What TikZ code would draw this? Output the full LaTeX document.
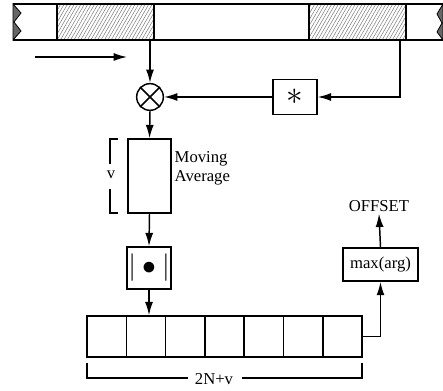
\documentclass[tikz,border=0pt]{standalone}
\usepackage{fontspec}
\setmainfont{Liberation Serif}
\usetikzlibrary{arrows.meta,patterns.meta,calc}
\begin{document}
\begin{tikzpicture}[x=0.75pt,y=-0.75pt,
  line width=1.1pt,
  arr/.style={-{Latex[length=10pt,width=6pt]}},
  box/.style={draw,rectangle,inner sep=0pt},
  cell/.style={draw,rectangle,inner sep=0pt,minimum width=29.5pt,minimum height=30.75pt},
  hatch/.style={pattern={Lines[angle=60,distance=2.2pt,line width=0.35pt]},pattern color=black!55},
  lbl/.style={font=\fontsize{12.5}{14}\selectfont}]
\useasboundingbox (0,0) rectangle (443,391);
% tape
\fill[hatch] (57,4) rectangle (154,40);
\fill[hatch] (309,4) rectangle (406,40);
\draw (57,4) -- (57,40) (154,4) -- (154,40) (309,4) -- (309,40) (406,4) -- (406,40);
\draw (13,4) -- (443,4) (13,40) -- (443,40);
\filldraw[fill=black!60,line width=0.6pt] (13,4) -- (21,13) -- (14,22) -- (21,31) -- (13,40) -- cycle;
\filldraw[fill=black!60,line width=0.6pt] (443,4) -- (437,14) -- (442,23) -- (437,32) -- (443,40) -- cycle;
\coordinate (tapL) at (150,40);
\coordinate (tapR) at (400,40);
% input arrow
\coordinate (inA) at (35,57);
\coordinate (inB) at (127,57);
\draw[arr] (inA) -- (inB);
% multiplier
\node[draw,circle,minimum size=20pt,inner sep=0pt] (mult) at (150,97) {};
\draw (mult.45) -- (mult.225) (mult.135) -- (mult.315);
% conjugate box
\node[box,minimum width=33pt,minimum height=26pt] (star) at (295,97) {\fontsize{26}{26}\selectfont$\ast$};
% moving average
\node[box,minimum width=32pt,minimum height=55.5pt] (ma) at (149.5,176) {};
\node[lbl,anchor=west,align=left,inner sep=0pt] (matext) at (174,168) {Moving\\Average};
\draw (118,139) -- (110,139) -- (110,164);
\draw (110,189) -- (110,213) -- (118,213);
\node[lbl,inner sep=0pt] (vlab) at (111,175) {v};
% abs box
\node[box,minimum width=33pt,minimum height=31.5pt] (abs) at (149,268) {\fontsize{22}{22}\selectfont$|\bullet|$};
% buffer
\foreach \i in {1,...,7} {
  \node[cell] (c\i) at ({87+39.3*(\i-0.5)},336.5) {};
}
\draw (87,363) -- (87,378) -- (188,378);
\draw (242,378) -- (362,378) -- (362,363);
\node[lbl,inner sep=0pt] (nlab) at (214,379) {2N+v};
% max box
\node[box,minimum width=56pt,minimum height=25pt,font=\fontsize{12.5}{14}\selectfont] (maxb) at (380.5,264.5) {max(arg)};
\node[lbl,inner sep=1pt] (off) at (379,206) {OFFSET};
% connectors
\draw[arr] (tapL) -- (mult.north);
\draw[arr] (tapR) |- (star.east);
\draw[arr] (star.west) -- (mult.east);
\draw[arr] (mult.south) -- (ma.north);
\draw[arr] (ma.south) -- (abs.north);
\draw[arr] (abs.south) -- (abs.south |- c2.north);
\draw[arr] (c7.east) -| (maxb.south);
\draw[arr] (maxb.north) -- (off.south);
\end{tikzpicture}
\end{document}
